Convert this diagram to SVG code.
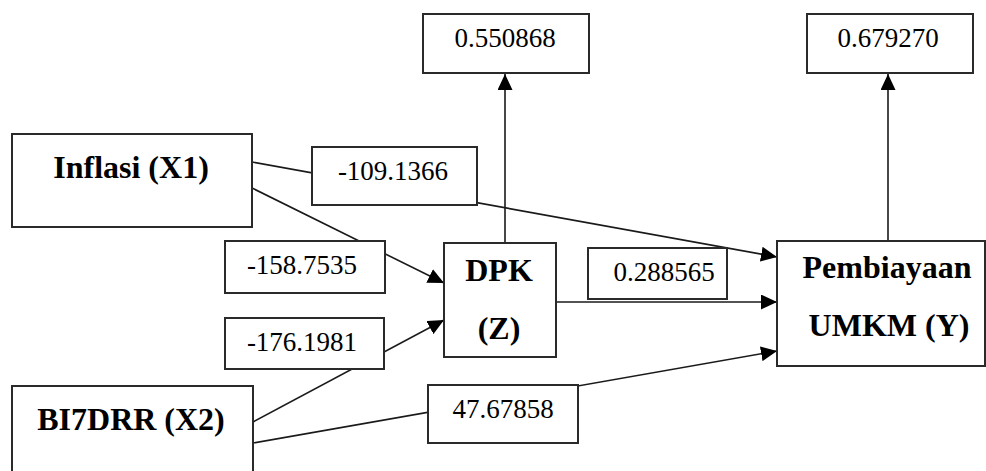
<svg xmlns="http://www.w3.org/2000/svg" width="986" height="471" viewBox="0 0 986 471">
<defs>
<style>
.box{fill:#fff;stroke:#2a2a2a;stroke-width:2}
.edge{stroke:#1a1a1a;stroke-width:1.6;fill:none}
.head{font-family:"Liberation Serif","Times New Roman",serif;font-weight:bold;font-size:32px;fill:#000;text-anchor:middle}
.num{font-family:"Liberation Serif","Times New Roman",serif;font-size:27px;fill:#000;text-anchor:middle}
</style>
<marker id="arr" markerUnits="userSpaceOnUse" markerWidth="17" markerHeight="15" refX="16" refY="7.5" orient="auto">
<path d="M0,0 L16,7.5 L0,15 z" fill="#000"/>
</marker>
</defs>
<rect width="986" height="471" fill="#fff"/>
<g id="connectors">
<line class="edge" x1="252" y1="162" x2="777" y2="257" marker-end="url(#arr)"/>
<line class="edge" x1="252" y1="188" x2="444" y2="283" marker-end="url(#arr)"/>
<line class="edge" x1="253" y1="422" x2="444" y2="320" marker-end="url(#arr)"/>
<line class="edge" x1="253" y1="443" x2="777" y2="351" marker-end="url(#arr)"/>
<line class="edge" x1="556" y1="302" x2="777" y2="302" marker-end="url(#arr)"/>
<line class="edge" x1="505" y1="243" x2="505" y2="74" marker-end="url(#arr)"/>
<line class="edge" x1="888" y1="241" x2="888" y2="74" marker-end="url(#arr)"/>
</g>
<g id="inflasi">
<rect class="box" x="12" y="134" width="240" height="93"/>
<text class="head" x="131" y="178">Inflasi (X1)</text>
</g>
<g id="bi7drr">
<rect class="box" x="12" y="386" width="241" height="100"/>
<text class="head" x="131" y="430">BI7DRR (X2)</text>
</g>
<g id="dpk">
<rect class="box" x="444" y="243" width="112" height="114"/>
<text class="head" x="499" y="281">DPK</text>
<text class="head" x="499" y="339">(Z)</text>
</g>
<g id="pembiayaan">
<rect class="box" x="777" y="241" width="208" height="125"/>
<text class="head" x="887" y="278">Pembiayaan</text>
<text class="head" x="889" y="336">UMKM (Y)</text>
</g>
<g id="r2-dpk">
<rect class="box" x="423" y="14" width="166" height="59"/>
<text class="num" x="505" y="47">0.550868</text>
</g>
<g id="r2-umkm">
<rect class="box" x="807" y="14" width="166" height="59"/>
<text class="num" x="888" y="47">0.679270</text>
</g>
<g id="label-x1-y">
<rect class="box" x="312" y="147" width="165" height="58"/>
<text class="num" x="393" y="180">-109.1366</text>
</g>
<g id="label-x1-z">
<rect class="box" x="225" y="241" width="160" height="52"/>
<text class="num" x="302" y="274">-158.7535</text>
</g>
<g id="label-x2-z">
<rect class="box" x="225" y="318" width="159" height="51"/>
<text class="num" x="302" y="351">-176.1981</text>
</g>
<g id="label-x2-y">
<rect class="box" x="428" y="385" width="150" height="58"/>
<text class="num" x="503" y="418">47.67858</text>
</g>
<g id="label-z-y">
<rect class="box" x="588" y="248" width="139" height="51"/>
<text class="num" x="664" y="281">0.288565</text>
</g>
</svg>
